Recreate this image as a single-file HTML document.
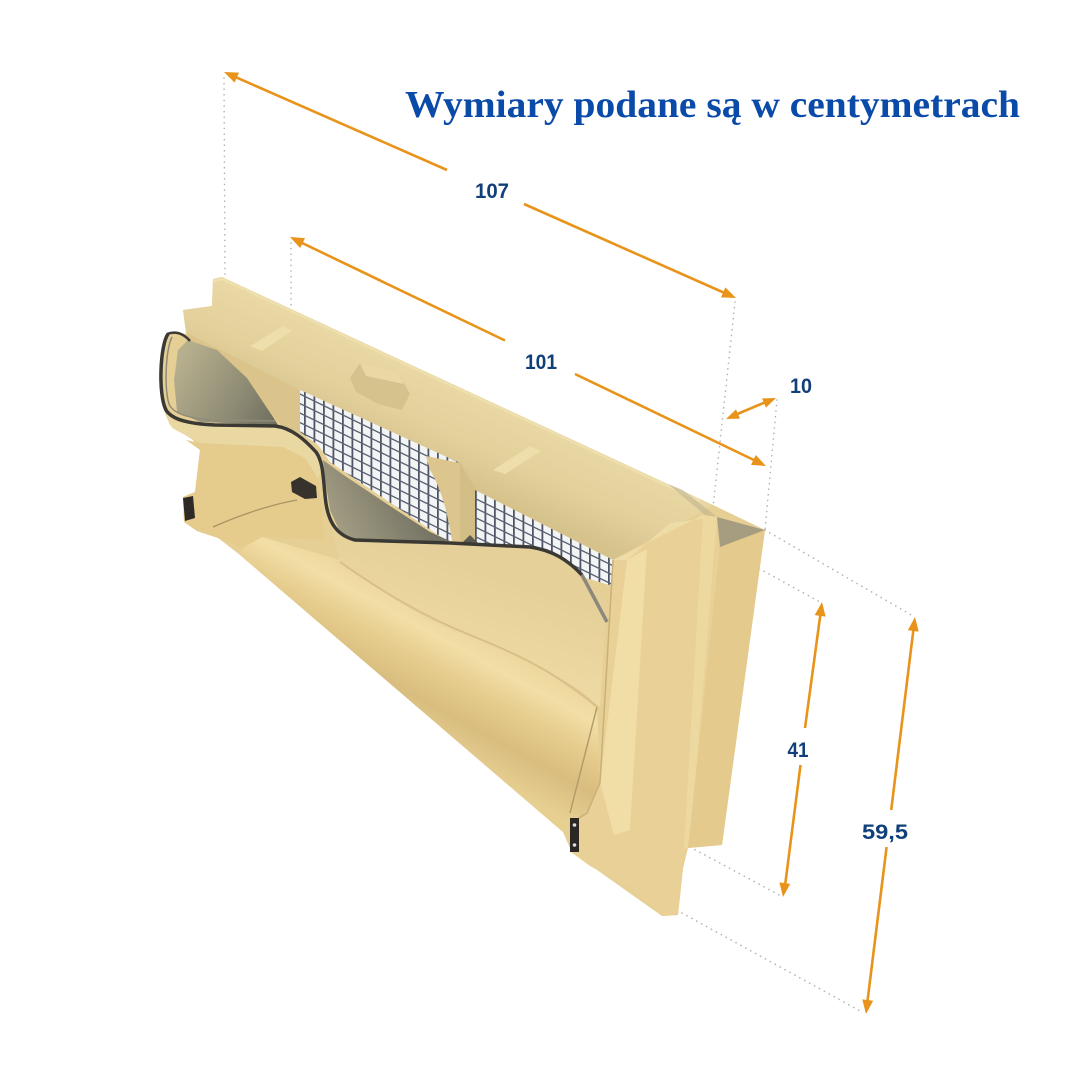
<!DOCTYPE html>
<html><head><meta charset="utf-8"><style>
html,body{margin:0;padding:0;background:#fff;}
svg{display:block;}
</style></head><body>
<svg width="1080" height="1080" viewBox="0 0 1080 1080" xmlns="http://www.w3.org/2000/svg">
<defs>
<pattern id="mesh" width="9.5" height="9.5" patternUnits="userSpaceOnUse" patternTransform="skewY(26)">
<rect width="9.5" height="9.5" fill="#f3f4f6"/>
<rect x="0" y="0" width="1.8" height="9.5" fill="#4d5564"/>
<rect x="0" y="0" width="9.5" height="1.5" fill="#5a6272"/>
</pattern>
<linearGradient id="topg" gradientUnits="userSpaceOnUse" x1="470" y1="380" x2="430" y2="470">
<stop offset="0" stop-color="#EBDAA6"/><stop offset="0.6" stop-color="#E3D09B"/><stop offset="1" stop-color="#D6C28B"/>
</linearGradient>
<linearGradient id="intg" gradientUnits="userSpaceOnUse" x1="180" y1="360" x2="280" y2="420">
<stop offset="0" stop-color="#B6AF8E"/><stop offset="0.6" stop-color="#8E8B74"/><stop offset="1" stop-color="#6E6D5E"/>
</linearGradient>
<linearGradient id="intg2" gradientUnits="userSpaceOnUse" x1="330" y1="540" x2="420" y2="490">
<stop offset="0" stop-color="#A9A387"/><stop offset="1" stop-color="#6F6E60"/>
</linearGradient>
<linearGradient id="trough" gradientUnits="userSpaceOnUse" x1="440" y1="610" x2="380" y2="720">
<stop offset="0" stop-color="#ECD69C"/><stop offset="0.2" stop-color="#F2DEA6"/><stop offset="0.45" stop-color="#E5CB8C"/><stop offset="0.7" stop-color="#D8BD7F"/><stop offset="1" stop-color="#E7CF92"/>
</linearGradient>
<linearGradient id="flapu" gradientUnits="userSpaceOnUse" x1="450" y1="560" x2="420" y2="650">
<stop offset="0" stop-color="#E6D09A"/><stop offset="1" stop-color="#EEDAA3"/>
</linearGradient>
</defs>

<!-- title -->
<text x="405" y="117" font-family="'Liberation Serif', serif" font-weight="bold" font-size="38" fill="#0A4AA8" textLength="615" lengthAdjust="spacingAndGlyphs">Wymiary podane są w centymetrach</text>

<!-- dotted extension lines -->
<g stroke="#B3B3B3" stroke-width="1.6" stroke-dasharray="0.1 5.5" stroke-linecap="round" fill="none">
<line x1="224" y1="78" x2="225" y2="277"/>
<line x1="291" y1="243" x2="291" y2="306"/>
<line x1="735" y1="302" x2="713" y2="508"/>
<line x1="777" y1="400" x2="765" y2="530"/>
<line x1="765" y1="530" x2="913" y2="616"/>
<line x1="720" y1="547" x2="820" y2="602"/>
<line x1="690" y1="847" x2="783" y2="897"/>
<line x1="682" y1="913" x2="862" y2="1012"/>
<line x1="716" y1="518" x2="765" y2="530"/>
</g>

<!-- product body base silhouette -->
<path d="M213,279 L222,277 L680,490 L713,505 L765,530 L722,845 L688,848 L683,868 L678,915 L662,916 L583,860 L572,853 L563,832 L240,555 L218,538 L197,531 L184,522 L183,497 L195,492 L200,450 L193,440 L170,425 L163,408 L160,380 L163,345 L167,335 L178,332 L186,334 L183,310 L212,306 Z" fill="#E6CF94"/>

<!-- lower left region under flap -->
<path d="M186,440 L200,443 L283,447 L305,458 L318,478 L325,540 L262,537 L243,548 L218,538 L197,531 L184,522 L183,497 L195,492 L200,450 Z" fill="#E5CC8D"/>
<path d="M213,527 C240,515 270,505 297,500" stroke="#A89462" stroke-width="1.3" fill="none"/>

<!-- trough -->
<path d="M243,548 L262,537 L340,560 L430,620 L530,660 L597,707 L600,783 L587,813 L573,822 L563,832 L240,555 Z" fill="url(#trough)"/>

<!-- flap underside -->
<path d="M325,495 C327,520 335,535 355,540 L450,543 L530,547 C552,550 568,560 582,575 L607,600 L600,707 L580,690 L530,662 L430,622 L340,562 L330,520 Z" fill="url(#flapu)"/>
<path d="M597,707 L570,813" stroke="#B49C68" stroke-width="1.5" fill="none"/>
<path d="M340,562 C380,590 420,615 470,635 C520,655 560,675 597,707" stroke="#D9C08A" stroke-width="2" fill="none"/>

<!-- top face -->
<path d="M183,310 L212,306 L213,279 L222,277 L713,505 L613,560 L475,490 L460,463 L300,390 L187,333 Z" fill="url(#topg)"/>
<path d="M213,281 L222,279 L700,501" stroke="#EFE0B0" stroke-width="2" fill="none"/>
<path d="M668,484 L683,490 L717,517 L705,515 Z" fill="#B9AE8C" opacity="0.5"/>
<!-- ribs and bump -->
<path d="M250,346 L283,326 L292,331 L262,351 Z" fill="#EEDEAB"/>
<path d="M493,470 L530,446 L541,451 L505,474 Z" fill="#EEDEAB"/>
<path d="M350,378 L360,363 L398,372 L410,394 L402,410 L378,404 L356,392 Z" fill="#D6C28C"/>
<path d="M360,363 L398,372 L404,384 L366,376 Z" fill="#E9D8A4"/>

<!-- left inner wall -->
<path d="M187,333 L300,390 L300,432 L290,433 L273,417 L247,378 L217,350 L188,340 Z" fill="#DAC48B"/>

<!-- flap interior -->
<path d="M188,340 L217,350 L247,378 L273,417 L278,425 L200,422 L177,412 L174,380 L178,350 Z" fill="url(#intg)"/>

<!-- mesh 1 -->
<path d="M300,390 L460,463 L460,541 L447,541 L330,462 L318,445 L300,432 Z" fill="url(#mesh)"/>
<!-- interior region 2 -->
<path d="M323,460 L345,476 L390,506 L430,532 L450,541 L360,541 L340,532 L330,510 L326,485 Z" fill="url(#intg2)"/>
<!-- fin -->
<path d="M426,456 L460,463 L460,541 L452,541 C448,515 442,490 430,470 Z" fill="#DDC68D"/>
<!-- post -->
<path d="M460,463 L475,488 L475,545 L460,543 Z" fill="#D3BE86"/>
<!-- mesh 2 -->
<path d="M475,490 L613,560 L613,586 L582,577 L565,560 L530,546 L475,543 Z" fill="url(#mesh)"/>
<path d="M470,535 L480,545 L460,545 Z" fill="#5a5a4e"/>

<!-- flap lip -->
<path d="M165,410 L175,422 L210,426 L275,427 L300,436 L316,452 L322,468 L318,478 L305,458 L283,447 L200,443 L172,428 Z" fill="#EAD8A3"/>

<!-- gasket -->
<path d="M168,334 C160,345 158,395 166,410 C172,420 190,424 215,425 L275,426 C292,428 305,440 316,452 C323,462 323,475 325,495 C327,520 335,535 355,540 L450,543 L530,547 C552,550 568,560 582,575" stroke="#3A3934" stroke-width="3.5" fill="none" stroke-linejoin="round"/>
<path d="M172,337 C165,350 164,395 170,406 C176,415 192,419 215,420 L275,421" stroke="#8F8B78" stroke-width="1.5" fill="none"/>
<path d="M167,334 C175,331 183,333 190,341" stroke="#3A3934" stroke-width="2.5" fill="none"/>
<path d="M582,575 L607,622" stroke="#8B887C" stroke-width="3.5" fill="none"/>

<!-- clips -->
<path d="M291,482 L300,477 L316,486 L317,498 L305,499 L292,492 Z" fill="#37322B"/>
<path d="M183,498 L193,496 L195,518 L185,521 Z" fill="#2F2A25"/>

<!-- right frame front face -->
<path d="M613,560 L703,515 L720,545 L688,847 L683,868 L678,915 L662,916 L630,888 L590,866 L575,855 L573,822 L587,813 L600,783 Z" fill="#E8D096"/>
<path d="M613,560 L703,515 L717,517 L670,523 L627,560 Z" fill="#EEDCA6"/>
<path d="M627,560 L647,549 L630,830 L614,835 L600,783 Z" fill="#F1DDA6"/>
<path d="M703,515 L717,517 L690,848 L684,848 Z" fill="#EDD8A0"/>
<path d="M613,560 L600,783 L587,813 L573,822" stroke="#C9B079" stroke-width="1.5" fill="none"/>
<!-- box side face -->
<path d="M720,545 L765,530 L722,845 L688,848 Z" fill="#E4CB8D"/>
<path d="M717,517 L765,530 L720,547 Z" fill="#A69D80"/>
<rect x="570" y="818" width="9" height="34" fill="#2B2824"/>
<circle cx="574.5" cy="825" r="1.8" fill="#ddd"/>
<circle cx="574.5" cy="845" r="1.8" fill="#ddd"/>

<!-- arrows -->
<g stroke="#E8931A" stroke-width="2.6" fill="none" stroke-linecap="butt">
<line x1="232" y1="75.5" x2="447" y2="170"/>
<line x1="524" y1="204" x2="728" y2="294.5"/>
<line x1="298" y1="241" x2="505" y2="340.5"/>
<line x1="575" y1="374" x2="758" y2="462"/>
<line x1="735" y1="415" x2="767" y2="401.5"/>
<line x1="821" y1="610" x2="805" y2="728"/>
<line x1="800.5" y1="765" x2="785" y2="886"/>
<line x1="914" y1="625" x2="891.2" y2="810"/>
<line x1="886.6" y1="847" x2="867" y2="1005"/>
</g>
<g fill="#E8931A">
<polygon points="736,298 720.98,297.38 725.42,287.32"/>
<polygon points="224,72 234.58,82.68 239.02,72.62"/>
<polygon points="766,466 751.0,464.89 755.76,454.97"/>
<polygon points="290,237 300.24,248.03 305.0,238.11"/>
<polygon points="776,398 765.95,407.64 762.07,398.42"/>
<polygon points="726,419 739.93,418.58 736.05,409.36"/>
<polygon points="783,897 790.28,883.85 779.38,882.41"/>
<polygon points="822,602 825.62,616.59 814.72,615.15"/>
<polygon points="866,1014 873.18,1000.77 862.26,999.43"/>
<polygon points="915,617 918.74,631.57 907.82,630.23"/>
</g>

<!-- labels -->
<g font-family="'Liberation Sans', sans-serif" font-weight="bold" font-size="21" fill="#103F7A" text-anchor="middle">
<text x="492" y="198" textLength="34" lengthAdjust="spacingAndGlyphs">107</text>
<text x="541" y="369" textLength="32" lengthAdjust="spacingAndGlyphs">101</text>
<text x="801" y="393" textLength="22" lengthAdjust="spacingAndGlyphs">10</text>
<text x="798" y="757" textLength="21" lengthAdjust="spacingAndGlyphs">41</text>
<text x="885" y="839" textLength="46" lengthAdjust="spacingAndGlyphs">59,5</text>
</g>
</svg>
</body></html>
